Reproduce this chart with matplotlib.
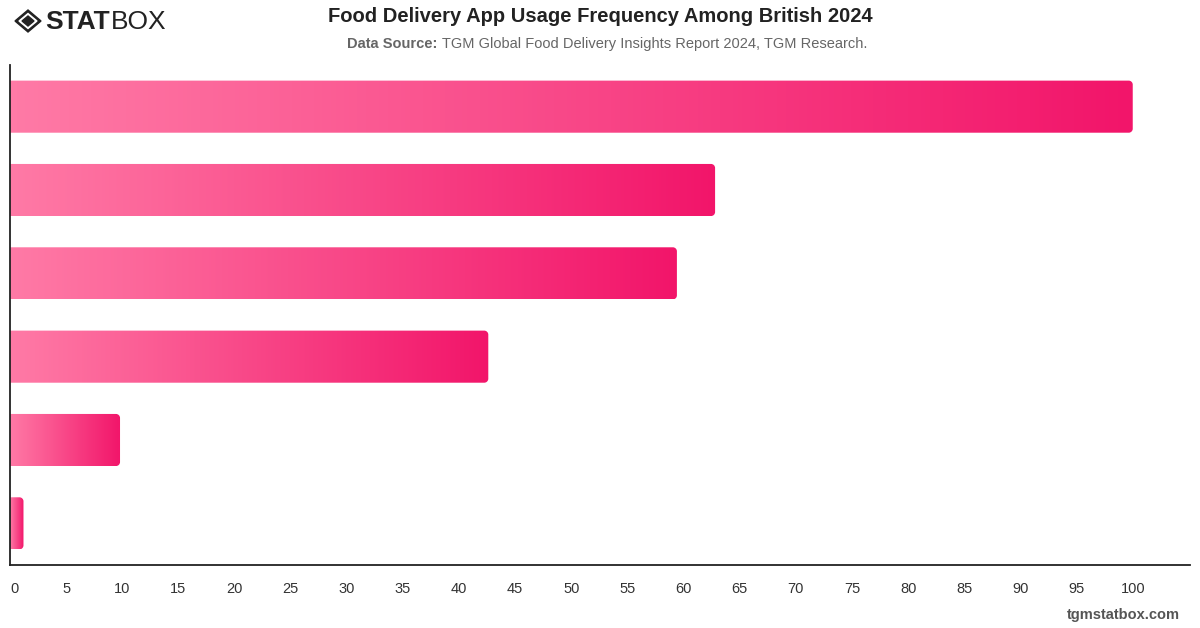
import matplotlib.pyplot as plt
import numpy as np
from matplotlib.path import Path
from matplotlib.patches import PathPatch, Polygon
from matplotlib.colors import LinearSegmentedColormap

plt.rcParams["font.family"] = ["Liberation Sans", "DejaVu Sans"]

# data (top bar first)
categories = ["Cat 1", "Cat 2", "Cat 3", "Cat 4", "Cat 5", "Cat 6"]
values = [100, 62.8, 59.4, 42.6, 9.8, 1.2]
xticks = list(range(0, 101, 5))

title = "Food Delivery App Usage Frequency Among British 2024"
source_bold = "Data Source:"
source_rest = " TGM Global Food Delivery Insights Report 2024, TGM Research."

W, H = 1200, 628
fig = plt.figure(figsize=(W / 100, H / 100), dpi=100)
fig.patch.set_facecolor("white")

# main axes in pixel placement
ax = fig.add_axes([10 / W, (H - 565) / H, 1180 / W, 500 / H])
n = len(values)
bar_h = 0.625

cmap = LinearSegmentedColormap.from_list("pinkgrad", ["#ff7aa6", "#f2156a"])
grad = np.linspace(0, 1, 256).reshape(1, -1)


def rounded_right(x1, y0, y1, rx, ry):
    # rectangle from x=0 with rounded right corners
    k = 0.5523
    verts = [(0, y0), (x1 - rx, y0),
             (x1 - rx + k * rx, y0), (x1, y0 + ry - k * ry), (x1, y0 + ry),
             (x1, y1 - ry),
             (x1, y1 - ry + k * ry), (x1 - rx + k * rx, y1), (x1 - rx, y1),
             (0, y1), (0, y0)]
    codes = [Path.MOVETO, Path.LINETO,
             Path.CURVE4, Path.CURVE4, Path.CURVE4,
             Path.LINETO,
             Path.CURVE4, Path.CURVE4, Path.CURVE4,
             Path.LINETO, Path.CLOSEPOLY]
    return Path(verts, codes)


px_per_x = 1180 / 105.1
px_per_y = 500 / n
rad = 4
for i, v in enumerate(values):
    y0, y1 = i - bar_h / 2, i + bar_h / 2
    rx = min(rad / px_per_x, v / 2)
    ry = rad / px_per_y
    patch = PathPatch(rounded_right(v, y0, y1, rx, ry), facecolor="none", edgecolor="none")
    ax.add_patch(patch)
    im = ax.imshow(grad, cmap=cmap, aspect="auto", extent=(0, v, y1, y0), interpolation="bicubic")
    im.set_clip_path(patch)

ax.set_xlim(0, 105.1)
ax.set_ylim(n - 0.5, -0.5)
ax.set_yticks([])
ax.set_xticks(xticks)
ax.set_xticklabels([str(t) for t in xticks], fontsize=10.5, color="#333333")
ax.tick_params(axis="x", length=0, pad=12)
for s in ["top", "right"]:
    ax.spines[s].set_visible(False)
for s in ["left", "bottom"]:
    ax.spines[s].set_color("#222222")
    ax.spines[s].set_linewidth(1.3)
ax.get_xticklabels()[0].set_horizontalalignment("left")

# overlay for header / footer in pixel coords
ov = fig.add_axes([0, 0, 1, 1], zorder=-1)
ov.set_xlim(0, W)
ov.set_ylim(H, 0)
ov.axis("off")

ov.text(600, 17, title, ha="center", va="center", fontsize=14.5, fontweight="bold", color="#222222")
t1 = ov.text(347, 44, source_bold, ha="left", va="center", fontsize=10.5, fontweight="bold", color="#666666")
fig.canvas.draw()
bb = t1.get_window_extent()
ov.text(bb.x1 + 1, 44, source_rest, ha="left", va="center", fontsize=10.5, color="#666666")

# logo
cx, cy = 28, 21
ov.add_patch(Polygon([(cx - 13, cy), (cx, cy - 11), (cx + 13, cy), (cx, cy + 11)], closed=True, color="#222222"))
ov.add_patch(Polygon([(cx - 9, cy), (cx, cy - 7.5), (cx + 9, cy), (cx, cy + 7.5)], closed=True, color="white"))
ov.add_patch(Polygon([(cx - 6, cy), (cx, cy - 5), (cx + 6, cy), (cx, cy + 5)], closed=True, color="#222222"))
ts = ov.text(45, 22, "STAT", ha="left", va="center", fontsize=19, fontweight="bold", color="#222222")
fig.canvas.draw()
sb = ts.get_window_extent()
ov.text(sb.x1 + 1, 22, "BOX", ha="left", va="center", fontsize=19, color="#222222")

ov.text(1180, 615, "tgmstatbox.com", ha="right", va="center", fontsize=10.5, fontweight="bold", color="#555555")

fig.savefig("out.png", dpi=100, facecolor="white")
